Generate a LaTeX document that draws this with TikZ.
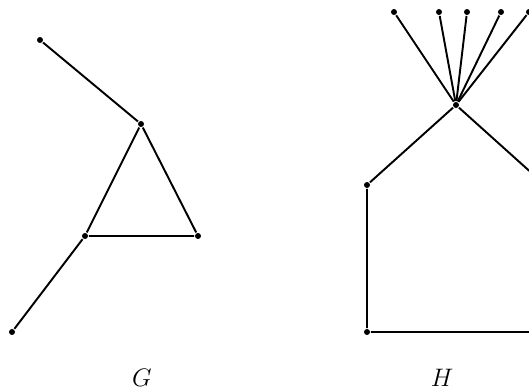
\documentclass[tikz,border=0pt]{standalone}
\begin{document}
\begin{tikzpicture}[x=0.02cm,y=-0.02cm,line width=1.1pt,
      vertex/.style={circle,fill,minimum size=0.12cm,inner sep=0pt},
      graph label/.style={font=\Large}]
      \useasboundingbox (0,0) rectangle (529,392);

      % graph G
      \node[vertex] (g1) at (40,40) {};
      \node[vertex] (g2) at (141,124) {};
      \node[vertex] (g3) at (85,236) {};
      \node[vertex] (g4) at (198,236) {};
      \node[vertex] (g5) at (12,332) {};
      \draw (g1) -- (g2) -- (g3) -- (g4) -- (g2);
      \draw (g3) -- (g5);
      \node[graph label] (labelG) at (142,378) {$G$};

      % graph H
      \node[vertex] (hub) at (456,105) {};
      \foreach \x [count=\i] in {394,439,467,501,529}
        \node[vertex] (leaf\i) at (\x,12) {};
      \foreach \i in {1,...,5}
        \draw (hub) -- (leaf\i);
      \node[vertex] (h1) at (367,185) {};
      \node[vertex] (h2) at (367,332) {};
      \node[vertex] (h3) at (545,185) {};
      \node[vertex] (h4) at (545,332) {};
      \draw (hub) -- (h1) -- (h2) -- (h4) -- (h3) -- (hub);
      \node[graph label] (labelH) at (442,378) {$H$};
\end{tikzpicture}
\end{document}
